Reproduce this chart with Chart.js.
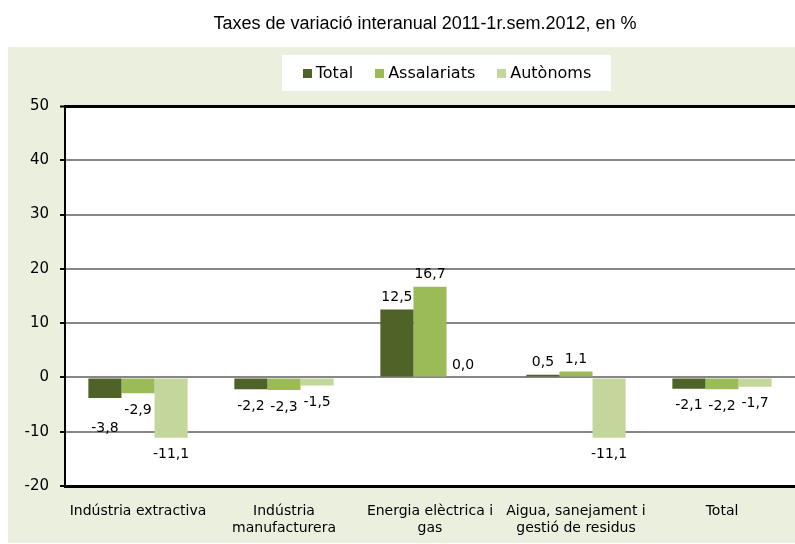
<!DOCTYPE html>
<html><head><meta charset="utf-8">
<script src="https://cdn.jsdelivr.net/npm/chart.js@4"></script>
<style>html,body{margin:0;padding:0;background:#fff}canvas{display:block}</style>
</head><body>
<canvas id="c" width="795" height="544"></canvas>
<script>
const categories = [['Indústria extractiva'], ['Indústria','manufacturera'], ['Energia elèctrica i','gas'], ['Aigua, sanejament i','gestió de residus'], ['Total']];
const seriesNames = ['Total', 'Assalariats', 'Autònoms'];
const totalValues = [-3.8, -2.2, 12.5, 0.5, -2.1];
const assalariatsValues = [-2.9, -2.3, 16.7, 1.1, -2.2];
const autonomsValues = [-11.1, -1.5, 0.0, -11.1, -1.7];
const yTicks = [-20, -10, 0, 10, 20, 30, 40, 50];
const titleText = 'Taxes de variació interanual 2011-1r.sem.2012, en %';
const seriesColors = ['#4F6228', '#9BBB59', '#C3D69B'];

const seriesValues = [totalValues, assalariatsValues, autonomsValues];
const fmt = v => v.toFixed(1).replace('.', ',');
const FONT = '"DejaVu Sans", Verdana, sans-serif';

const decor = {
  id: 'decor',
  beforeDraw(chart) {
    const {ctx, chartArea: a} = chart;
    ctx.save();
    ctx.fillStyle = '#ffffff';
    ctx.fillRect(0, 0, chart.width, chart.height);
    ctx.fillStyle = '#EBEFDE';
    ctx.fillRect(8, 47, chart.width - 8, 496);
    ctx.fillStyle = '#ffffff';
    ctx.fillRect(a.left, a.top, a.right - a.left, a.bottom - a.top);
    // legend box
    ctx.fillRect(282, 55, 329, 36);
    // title
    ctx.fillStyle = '#000';
    ctx.font = '18px "Liberation Sans", Arial, sans-serif';
    ctx.textAlign = 'center';
    ctx.textBaseline = 'alphabetic';
    ctx.fillText(titleText, 425, 29);
    // legend
    ctx.font = '16px ' + FONT;
    ctx.textAlign = 'left';
    ctx.textBaseline = 'middle';
    const ds = chart.data.datasets;
    const box = 9, gapTxt = 4, gapItem = 22;
    const widths = ds.map(d => box + gapTxt + ctx.measureText(d.label).width);
    const total = widths.reduce((s, w) => s + w, 0) + gapItem * (ds.length - 1);
    let x = 447 - total / 2;
    const cy = 74;
    ds.forEach((d, i) => {
      ctx.fillStyle = d.backgroundColor;
      ctx.fillRect(Math.round(x), cy - 5, box, box);
      ctx.fillStyle = '#000';
      ctx.fillText(d.label, x + box + gapTxt, cy);
      x += widths[i] + gapItem;
    });
    ctx.restore();
  },
  afterDatasetsDraw(chart, args, opts) {
    const {ctx} = chart;
    ctx.save();
    ctx.font = '14px ' + FONT;
    ctx.fillStyle = '#000';
    ctx.textAlign = 'center';
    ctx.textBaseline = 'middle';
    chart.data.datasets.forEach((d, i) => {
      const meta = chart.getDatasetMeta(i);
      meta.data.forEach((el, j) => {
        const v = d.data[j];
        const nudge = (opts.nudge && opts.nudge[i + '-' + j]) || 0;
        const y = v >= 0 ? el.y - 12 : el.y + 17 + nudge;
        ctx.fillText(fmt(v), el.x, y);
      });
    });
    ctx.restore();
  }
};

new Chart(document.getElementById('c'), {
  type: 'bar',
  data: {
    labels: categories,
    datasets: seriesNames.map((n, i) => ({
      label: n,
      data: seriesValues[i],
      backgroundColor: seriesColors[i],
      borderWidth: 0,
      categoryPercentage: 0.68,
      barPercentage: 1
    }))
  },
  options: {
    responsive: false,
    animation: false,
    devicePixelRatio: 1,
    layout: {padding: {left: 8, top: 106, right: 0, bottom: 0}},
    plugins: {
      legend: {display: false},
      title: {display: false},
      tooltip: {enabled: false},
      decor: {nudge: {'0-0': 13}}
    },
    scales: {
      x: {
        grid: {display: false},
        border: {display: true, color: '#000', width: 3},
        ticks: {color: '#000', font: {family: FONT, size: 14, lineHeight: 1.22}, padding: 9, maxRotation: 0, autoSkip: false},
        afterFit(s) { s.height = 58; }
      },
      y: {
        min: yTicks[0],
        max: yTicks[yTicks.length - 1],
        ticks: {stepSize: yTicks[1] - yTicks[0], color: '#000', font: {family: FONT, size: 15}, padding: 11},
        grid: {
          color: c => (c.tick && (c.tick.value === yTicks[yTicks.length - 1] || c.tick.value === yTicks[0])) ? '#000' : '#878787',
          lineWidth: c => (c.tick && c.tick.value === yTicks[yTicks.length - 1]) ? 3 : 2,
          tickColor: '#000',
          tickLength: 5,
          tickWidth: 2
        },
        border: {display: true, color: '#000', width: 2},
        afterFit(s) { s.width = 57; }
      }
    }
  },
  plugins: [decor]
});
</script>
</body></html>
